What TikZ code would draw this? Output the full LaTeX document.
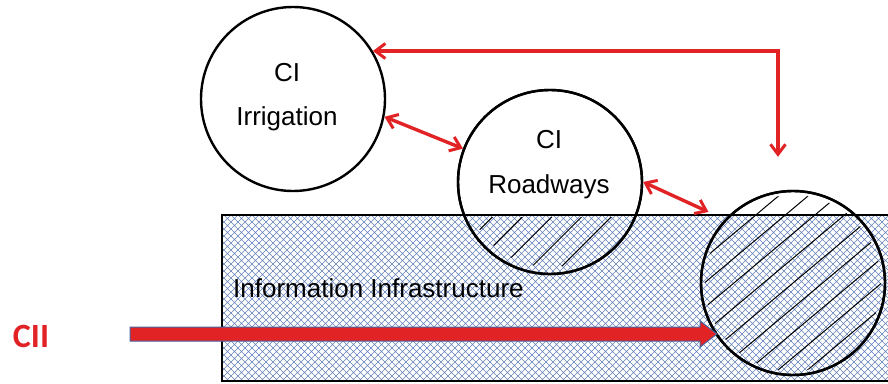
\documentclass[tikz,border=0pt]{standalone}
\usepackage{fontspec}
\setmainfont{Liberation Sans}
\newfontfamily\ciifont{Carlito}
\usetikzlibrary{arrows.meta,calc,patterns}
\definecolor{linkred}{RGB}{226,35,38}
\definecolor{gridblue}{RGB}{100,130,185}
\definecolor{shaftedge}{RGB}{70,100,160}

% open diamond mesh for the information layer
\pgfdeclarepatternformonly{diamondmesh}{\pgfpoint{-1pt}{-1pt}}{\pgfpoint{8pt}{8pt}}{\pgfpoint{7pt}{7pt}}{%
  \pgfsetlinewidth{0.6pt}%
  \pgfpathmoveto{\pgfpoint{0pt}{0pt}}\pgfpathlineto{\pgfpoint{7pt}{7pt}}%
  \pgfpathmoveto{\pgfpoint{0pt}{7pt}}\pgfpathlineto{\pgfpoint{7pt}{0pt}}%
  \pgfusepath{stroke}}

\begin{document}
\begin{tikzpicture}[x=1pt,y=-1pt,
  sector/.style={circle,draw=black,line width=2.4pt,minimum size=184pt,inner sep=0pt},
  linktip/.tip={Straight Barb[length=10pt,width=15pt,line width=3pt]},
  link/.style={draw=linkred,line width=3.4pt,linktip-linktip},
  caption/.style={font=\fontsize{26}{30}\selectfont,inner sep=0pt},
  hatch/.style={line width=1pt}]

\useasboundingbox (0,0) rectangle (888,383);

% information infrastructure layer
\fill[white] (222,215) rectangle (892,381);
\fill[pattern=diamondmesh,pattern color=gridblue] (222,215) rectangle (892,381);

% critical infrastructure sectors
\node[sector,fill=white] (irr) at (293,99) {};
\node[sector] (road) at (550,182) {};
\node[sector] (cii) at (793,283) {};

% hatching where a sector depends on the information layer
\begin{scope}
  \clip (550,182) circle (85) ;
  \clip (400,217) rectangle (700,300);
  \foreach \o in {-100,-79,...,110}
    \draw[hatch,rotate around={45:(550,182)}] (430,182+\o) -- (670,182+\o);
\end{scope}
\begin{scope}
  \clip (793,283) circle (88);
  \foreach \o in {-95,-76,...,100}
    \draw[hatch,rotate around={40:(793,283)}] (680,283+\o) -- (906,283+\o);
\end{scope}

% redraw outlines on top
\node[sector] at (road) {};
\node[sector] at (cii) {};
\draw[line width=2.4pt] (892,215) -- (222,215) -- (222,381) -- (892,381);

% labels
\node[caption,anchor=base] at (287,81) {CI};
\node[caption,anchor=base] at (287,125) {Irrigation};
\node[caption,anchor=base] at (549,148) {CI};
\node[caption,anchor=base] at (549,193) {Roadways};
\node[caption,anchor=base west] (infra) at (233,297) {Information Infrastructure};

% dependencies between sectors
\draw[link] (irr.-11) -- (road.159);
\draw[link,shorten >=18pt] (road.0) -- (cii.137);
\draw[link] (irr.31) -| ($(cii.north)+(-15,-33)$);

% CII flow arrow
\node[font=\ciifont\bfseries\fontsize{34}{36}\selectfont,text=linkred,inner sep=0pt] (ciilabel) at (31,336) {CII};
\coordinate (ciitail) at (130,334);
\coordinate (ciitip) at (717,334);
\fill[linkred,draw=shaftedge,line width=1pt]
  ($(ciitail)+(0,-7)$) -- ($(ciitip)+(-17,-7)$) -- ($(ciitip)+(-17,-13)$) -- (ciitip)
  -- ($(ciitip)+(-17,13)$) -- ($(ciitip)+(-17,7)$) -- ($(ciitail)+(0,7)$) -- cycle;
\end{tikzpicture}
\end{document}
